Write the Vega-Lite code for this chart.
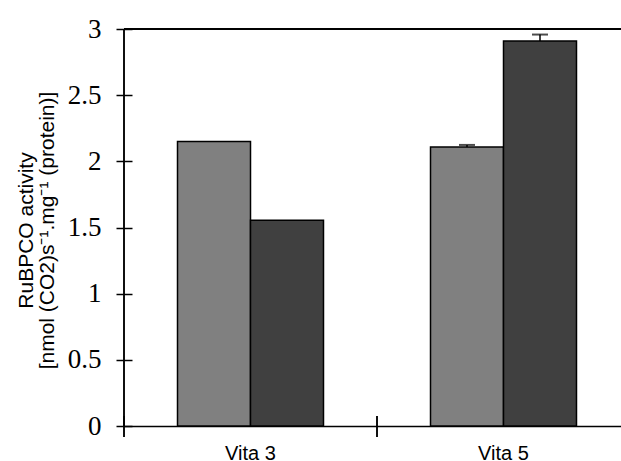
{
  "$schema": "https://vega.github.io/schema/vega-lite/v6.json",
  "autosize": {"type": "none"},
  "width": 497,
  "height": 397,
  "padding": {"left": 124, "top": 29, "right": 0, "bottom": 35},
  "background": "white",
  "config": {"view": {"stroke": null}},
  "data": {"values": [
    {"group": "Vita 3", "series": "A", "value": 2.15, "upper": null},
    {"group": "Vita 3", "series": "B", "value": 1.555, "upper": null},
    {"group": "Vita 5", "series": "A", "value": 2.108, "upper": 2.124},
    {"group": "Vita 5", "series": "B", "value": 2.91, "upper": 2.958}
  ]},
  "layer": [
    {
      "mark": {"type": "rule", "color": "#000", "strokeWidth": 1.5},
      "encoding": {"y": {"datum": 3, "type": "quantitative"}}
    },
    {
      "mark": {"type": "bar", "stroke": "#000", "strokeWidth": 1.5},
      "encoding": {
        "x": {
          "field": "group", "type": "nominal",
          "scale": {"range": [0, 506], "paddingInner": 0, "paddingOuter": 0},
          "axis": {
            "title": null, "labelAngle": 0, "domain": true, "domainColor": "#000", "domainWidth": 1.5,
            "ticks": false, "tickSize": 0, "labelPadding": 17,
            "labelFont": "Liberation Sans", "labelFontSize": 20, "labelColor": "#000"
          }
        },
        "xOffset": {"field": "series", "type": "nominal", "scale": {"paddingInner": 0, "paddingOuter": 0.733}},
        "y": {
          "field": "value", "type": "quantitative",
          "scale": {"domain": [0, 3], "nice": false, "zero": true},
          "axis": {
            "title": ["RuBPCO activity", "[nmol (CO2)s⁻¹.mg⁻¹ (protein)]"],
            "values": [0, 0.5, 1, 1.5, 2, 2.5, 3],
            "format": "~g",
            "offset": -8, "tickSize": 16, "tickWidth": 1.5, "tickColor": "#000",
            "domain": false, "grid": false, "labelPadding": 15,
            "labelFont": "Liberation Serif", "labelFontSize": 27, "labelColor": "#000",
            "titleFont": "Liberation Sans", "titleFontSize": 21, "titleFontWeight": "normal",
            "titleColor": "#000", "titleLineHeight": 21, "titleBaseline": "alphabetic",
            "titleAlign": "center", "titleAngle": -90, "titleX": -100, "titleY": 201
          }
        },
        "color": {"field": "series", "type": "nominal", "scale": {"range": ["#808080", "#404040"]}, "legend": null}
      }
    },
    {
      "transform": [{"filter": "datum.upper != null"}],
      "mark": {"type": "rule", "color": "#000", "strokeWidth": 1.5},
      "encoding": {
        "x": {"field": "group", "type": "nominal"},
        "xOffset": {"field": "series", "type": "nominal"},
        "y": {"field": "value", "type": "quantitative"},
        "y2": {"field": "upper"}
      }
    },
    {
      "transform": [{"filter": "datum.upper != null"}],
      "mark": {"type": "tick", "color": "#000", "thickness": 2, "size": 16, "orient": "horizontal"},
      "encoding": {
        "x": {"field": "group", "type": "nominal"},
        "xOffset": {"field": "series", "type": "nominal"},
        "y": {"field": "upper", "type": "quantitative"}
      }
    },
    {
      "mark": {"type": "rule", "color": "#000", "strokeWidth": 1.5},
      "encoding": {
        "x": {"field": "group", "type": "nominal", "bandPosition": 0},
        "y": {"datum": 0.075, "type": "quantitative"},
        "y2": {"datum": -0.083}
      }
    },
    {
      "transform": [{"filter": "datum.group == 'Vita 3'"}],
      "mark": {"type": "rule", "color": "#000", "strokeWidth": 1.5},
      "encoding": {
        "x": {"field": "group", "type": "nominal", "bandPosition": 0},
        "y": {"datum": 0, "type": "quantitative"},
        "y2": {"datum": 3}
      }
    }
  ]
}
